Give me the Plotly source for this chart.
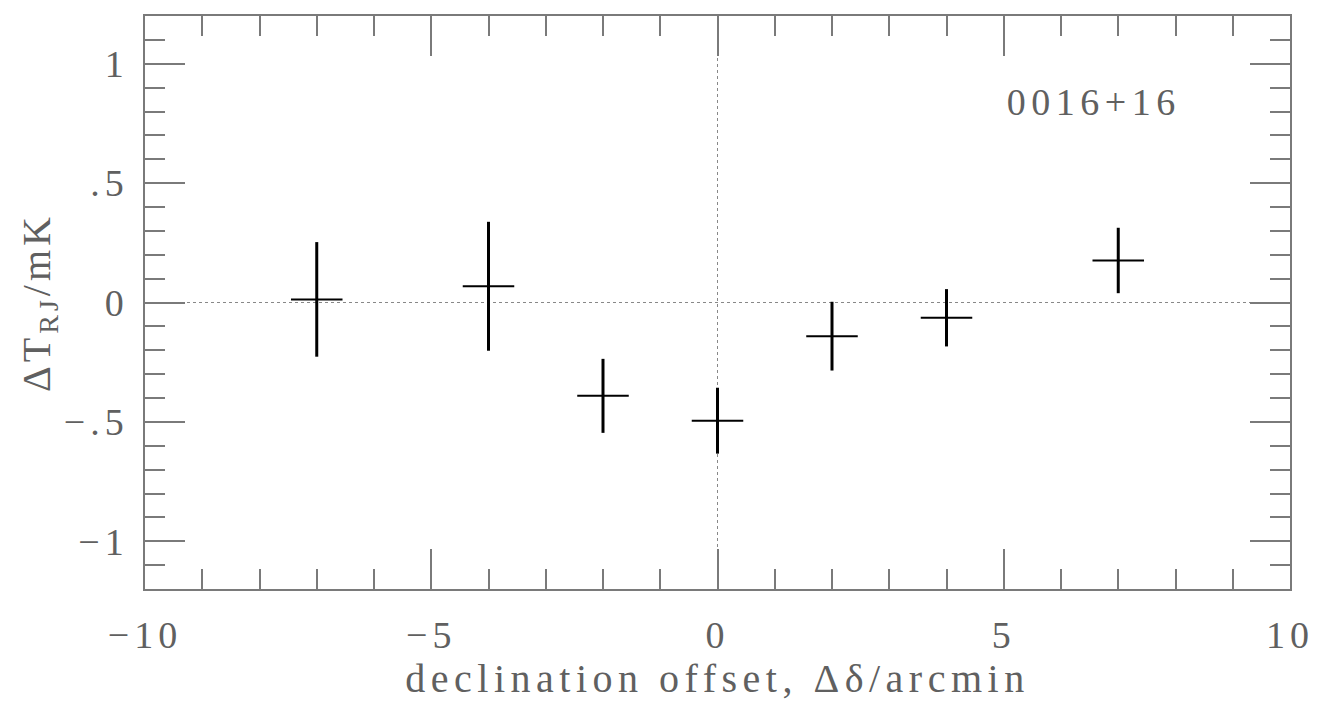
import plotly.graph_objects as go

# Data
offsets = [-7, -4, -2, 0, 2, 4, 7]
delta_t = [0.013, 0.068, -0.391, -0.495, -0.141, -0.064, 0.176]
t_err = [0.24, 0.27, 0.155, 0.138, 0.144, 0.12, 0.137]
offset_err = [0.45, 0.45, 0.45, 0.45, 0.45, 0.45, 0.45]

x_tickvals = [-10, -5, 0, 5, 10]
x_ticktext = ["\u221210", "\u22125", "0", "5", "10"]
y_tickvals = [-1, -0.5, 0, 0.5, 1]
y_ticktext = ["\u22121", "\u2212.5", "0", ".5", "1"]

GREY = "#7a7a7a"
TXT = "#606060"
FONT = "Liberation Serif"

fig = go.Figure()
fig.add_trace(go.Scatter(
    x=offsets, y=delta_t, mode="markers",
    marker=dict(size=0.1, color="black"),
    error_y=dict(type="data", array=t_err, width=0, thickness=3, color="black"),
    error_x=dict(type="data", array=offset_err, width=0, thickness=2, color="black"),
    showlegend=False, hoverinfo="skip",
))

fig.add_hline(y=0, line=dict(color="#888888", width=1, dash="dot"), layer="below")
fig.add_vline(x=0, line=dict(color="#888888", width=1, dash="dot"), layer="below")

fig.add_annotation(x=6.56, y=0.838, xref="x", yref="y", text="0016+16",
                   showarrow=False, font=dict(family=FONT, size=38, color=TXT))

axis_common = dict(
    showgrid=False, zeroline=False, showline=True, linecolor=GREY, linewidth=1.5,
    mirror="allticks", ticks="inside", tickcolor=GREY, tickwidth=1.5, ticklen=40,
    tickfont=dict(family=FONT, size=38, color=TXT),
)

fig.update_xaxes(
    range=[-10, 10], tickmode="array", tickvals=x_tickvals, ticktext=x_ticktext,
    minor=dict(dtick=1, ticks="inside", ticklen=20, tickcolor=GREY, tickwidth=1.5),
    ticklabelstandoff=12,
    title=dict(text="declination offset, \u0394\u03b4/arcmin",
               font=dict(family=FONT, size=40, color=TXT), standoff=0),
    **axis_common,
)
fig.update_yaxes(
    range=[-1.2, 1.2], tickmode="array", tickvals=y_tickvals, ticktext=y_ticktext,
    minor=dict(dtick=0.1, ticks="inside", ticklen=20, tickcolor=GREY, tickwidth=1.5),
    ticklabelstandoff=7,
    title=dict(text="\u0394T<sub>RJ</sub>/mK",
               font=dict(family=FONT, size=40, color=TXT), standoff=16),
    **axis_common,
)

fig.update_layout(
    width=1322, height=712,
    margin=dict(l=145, r=32, t=16, b=123),
    plot_bgcolor="white", paper_bgcolor="white",
)

css_js = (
    "var st=document.createElement('style');"
    "st.textContent='body{margin:0;overflow:hidden}"
    " .xtitle{letter-spacing:5.5px} .ytitle{letter-spacing:4px}"
    " .xtick text,.ytick text{letter-spacing:5px}"
    " .annotation-text{letter-spacing:5.5px}';"
    "document.head.appendChild(st);"
)

fig.write_html("out.html", post_script=css_js, config={"displayModeBar": False})
